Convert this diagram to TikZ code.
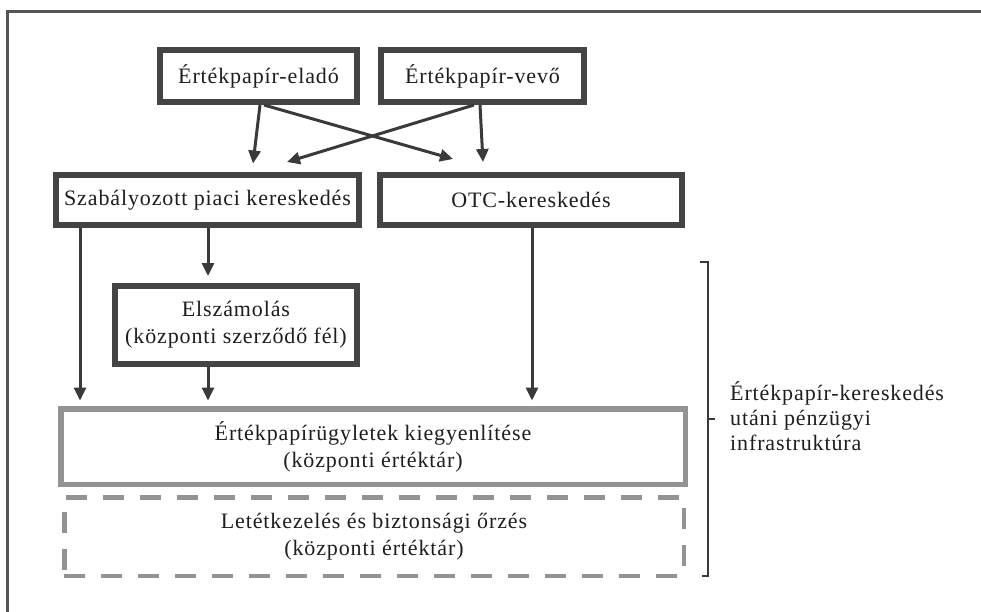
\documentclass[tikz,border=0pt]{standalone}
\usepackage{fontspec}
\setmainfont{Liberation Serif}[LetterSpace=4]
\usetikzlibrary{arrows.meta,calc}
\definecolor{dk}{HTML}{444444}
\definecolor{ar}{HTML}{3A3A3A}
\definecolor{gr}{HTML}{939393}
\definecolor{fr}{HTML}{555555}
\definecolor{tx}{HTML}{1E1E1E}
\begin{document}
\begin{tikzpicture}[x=1pt,y=-1pt,
  txt/.style={font=\fontsize{22}{27}\selectfont, text=tx, align=center, inner sep=0pt},
  darkbox/.style={txt, draw=dk, line width=6pt, fill=white},
  settlebox/.style={txt, draw=gr, line width=5.5pt},
  dashbox/.style={txt, draw=gr, line width=4.5pt, dash pattern=on 21pt off 16pt},
  arr/.style={draw=ar, line width=3pt, -{Triangle[length=13pt,width=12pt]}},
  brk/.style={draw=ar, line width=1.8pt}
]
\useasboundingbox (0,0) rectangle (981,611);
% outer frame
\draw[fr, line width=2.2pt] (7.5,620) -- (7.5,11.5) -- (990,11.5);

\node[darkbox, minimum width=197pt, minimum height=52pt] (seller) at (258.5,76) {Értékpapír-eladó};
\node[darkbox, minimum width=203pt, minimum height=52pt] (buyer) at (482.5,76) {Értékpapír-vevő};
\node[darkbox, minimum width=303pt, minimum height=50pt] (reg) at (207.5,200) {Szabályozott piaci kereskedés};
\node[darkbox, minimum width=302pt, minimum height=50pt] (otc) at (531,200) {OTC-kereskedés};
\node[darkbox, minimum width=242pt, minimum height=78pt] (clear) at (236,325) {Elszámolás\\(központi szerződő fél)};
\node[settlebox, minimum width=624.5pt, minimum height=75.5pt] (settle) at (373,446.5) {Értékpapírügyletek kiegyenlítése\\(központi értéktár)};
\node[dashbox, minimum width=619.5pt, minimum height=78.5pt] (custody) at (374,536.5) {Letétkezelés és biztonsági őrzés\\(központi értéktár)};

% arrows top
\draw[arr] ([xshift=1.5pt]seller.south) -- ([xshift=45.5pt,yshift=8.5pt]reg.north);
\draw[arr] ([xshift=5.5pt]seller.south) -- ([xshift=-78pt,yshift=13pt]otc.north);
\draw[arr] ([xshift=-8.5pt]buyer.south) -- ([xshift=79.5pt,yshift=10pt]reg.north);
\draw[arr] ([xshift=-2.5pt]buyer.south) -- ([xshift=-48pt,yshift=10pt]otc.north);

% arrows down
\draw[arr, shorten >=5.5pt] ([xshift=-127.5pt]reg.south) -- ([xshift=-127.5pt]reg.south |- settle.north);
\draw[arr, shorten >=7pt] ([xshift=0.5pt]reg.south) -- ([xshift=0.5pt]reg.south |- clear.north);
\draw[arr, shorten >=5.5pt] ([xshift=-28pt]clear.south) -- ([xshift=-28pt]clear.south |- settle.north);
\draw[arr, shorten >=5.5pt] ([xshift=1pt]otc.south) -- ([xshift=1pt]otc.south |- settle.north);

% bracket
\coordinate (bt) at (708,262);
\coordinate (bb) at (708,576);
\coordinate (bm) at (708,419);
\draw[brk] ([xshift=-8pt]bt) -- (bt) -- (bb) -- ([xshift=-6pt]bb);
\draw[brk] (bm) -- ([xshift=7pt]bm);
\node[txt, align=left, anchor=west, font=\fontsize{22}{25}\selectfont] (lbl) at (730,416) {Értékpapír-kereskedés\\utáni pénzügyi\\infrastruktúra};
\end{tikzpicture}
\end{document}
